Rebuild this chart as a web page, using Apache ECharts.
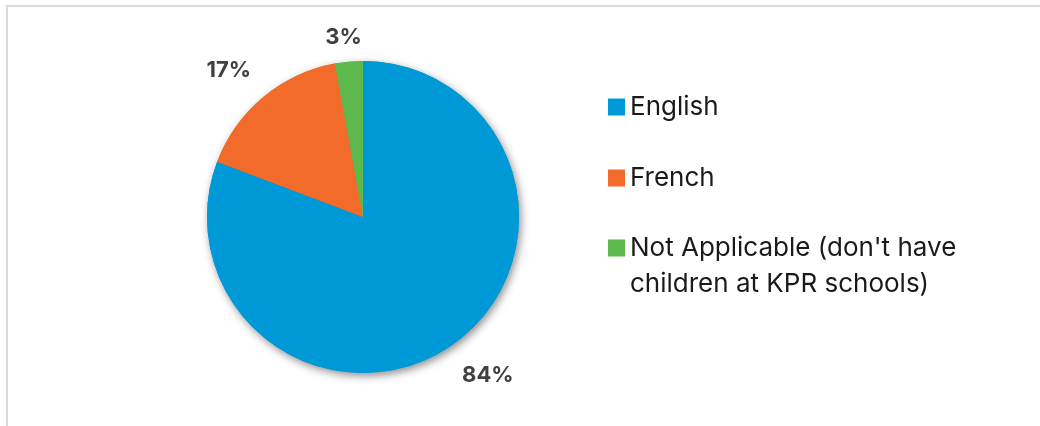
<!DOCTYPE html>
<html><head><meta charset="utf-8">
<script src="https://cdn.jsdelivr.net/npm/echarts@6/dist/echarts.min.js"></script>
<style>html,body{margin:0;padding:0;background:#fff}#c{width:1040px;height:426px}</style>
</head><body><div id="c"></div>
<script>
const categories = ['English', 'French', "Not Applicable (don't have children at KPR schools)"];
const legendLabels = ['English', 'French', "\nNot Applicable (don't have\nchildren at KPR schools)"];
const values = [84, 17, 3];
const colors = ['#0099D8', '#F26B2A', '#5DB94B'];

const chart = echarts.init(document.getElementById('c'), null, {renderer: 'canvas'});
const data = categories.map((n, i) => ({name: n, value: values[i], itemStyle: {color: colors[i]}}));
const labelNudge = [[-7, 12], [7, -10], [20, -2]];
const legendTops = [89, 160, 194];
const FONT = 'Inter';

const legends = categories.map((n, i) => ({
  left: 608,
  top: legendTops[i],
  padding: 0,
  orient: 'vertical',
  icon: 'rect',
  itemWidth: 17,
  itemHeight: 17,
  itemGap: 0,
  selectedMode: false,
  textStyle: {fontFamily: FONT, fontSize: 26, lineHeight: 36, color: '#1a1a1a'},
  formatter: name => legendLabels[categories.indexOf(name)],
  data: [n]
}));

chart.setOption({
  animation: false,
  backgroundColor: '#fff',
  graphic: [{
    type: 'rect', silent: true, z: -10,
    shape: {x: 7, y: 6, width: 1100, height: 1000},
    style: {fill: 'none', stroke: '#d9d9d9', lineWidth: 2}
  }],
  legend: legends,
  series: [{
    type: 'pie', silent: true, z: 1,
    center: [363, 217], radius: 156,
    data: data,
    label: {show: false}, labelLine: {show: false},
    itemStyle: {shadowBlur: 8, shadowColor: 'rgba(0,0,0,0.45)', shadowOffsetX: 2, shadowOffsetY: 3},
    emphasis: {disabled: true}
  }, {
    type: 'pie', silent: true, z: 2,
    center: [363, 217], radius: 156,
    data: data,
    itemStyle: {borderWidth: 0},
    label: {
      show: true, position: 'outside',
      formatter: p => p.value + '%',
      fontFamily: FONT, fontSize: 22, fontWeight: 'bold', color: '#404040'
    },
    labelLine: {show: false, length: 22, length2: 0},
    labelLayout: p => ({dx: labelNudge[p.dataIndex][0], dy: labelNudge[p.dataIndex][1]}),
    emphasis: {disabled: true}
  }]
});
</script></body></html>
